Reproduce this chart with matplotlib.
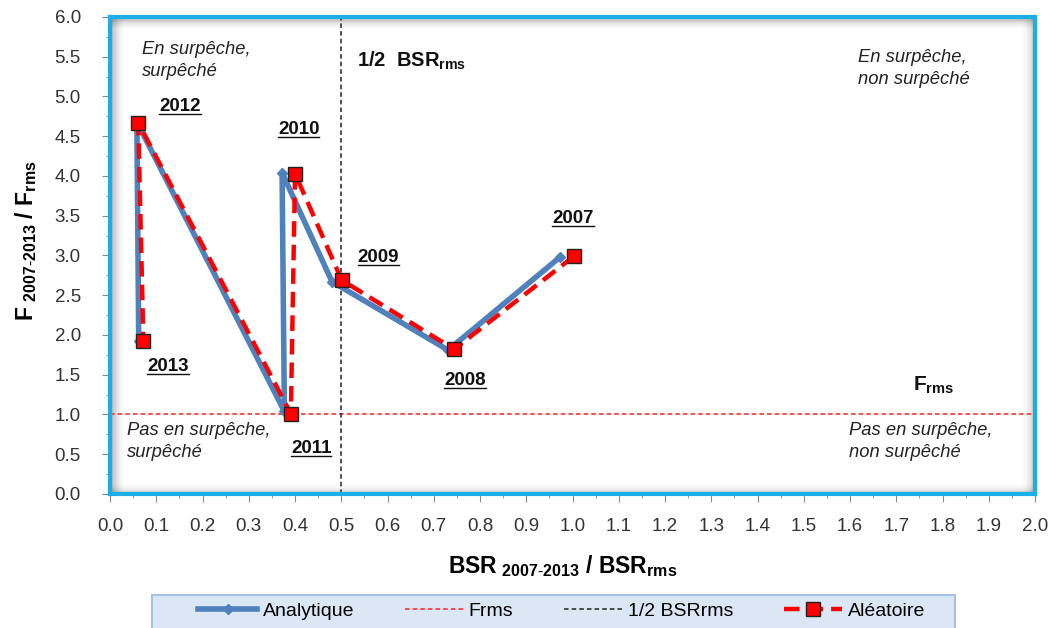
import matplotlib
matplotlib.use('Agg')
import matplotlib.pyplot as plt
from matplotlib.ticker import MultipleLocator
from matplotlib.lines import Line2D
from matplotlib.patches import Rectangle

plt.rcParams['font.family'] = ['Liberation Sans', 'DejaVu Sans']
plt.rcParams['mathtext.fontset'] = 'custom'
plt.rcParams['mathtext.rm'] = 'Liberation Sans'
plt.rcParams['mathtext.bf'] = 'Liberation Sans:bold'
plt.rcParams['mathtext.default'] = 'bf'

years = ['2007', '2008', '2009', '2010', '2011', '2012', '2013']
bsr_ana = [0.973, 0.731, 0.48, 0.372, 0.377, 0.058, 0.062]
f_ana = [2.98, 1.81, 2.67, 4.04, 1.04, 4.68, 1.93]
bsr_ale = [1.003, 0.744, 0.501, 0.40, 0.391, 0.061, 0.072]
f_ale = [2.99, 1.82, 2.69, 4.03, 1.01, 4.67, 1.93]

# label positions for the years (data coords)
lab_x = [1.001, 0.768, 0.58, 0.408, 0.435, 0.151, 0.125]
lab_y = [3.47, 1.43, 2.98, 4.59, 0.57, 4.87, 1.60]

f_rms = 1.0
half_bsr = 0.5

fig = plt.figure(figsize=(10.48, 6.28), dpi=100)
ax = fig.add_axes([0.105, 0.2134, 0.8826, 0.7596])

ax.axhline(f_rms, color='#FF2020', ls=(0, (3, 2)), lw=1.1, zorder=2)
ax.axvline(half_bsr, color='#222222', ls=(0, (3, 2)), lw=1.1, zorder=2)

ax.plot(bsr_ana, f_ana, color='#4F81BD', lw=4.0, marker='D', ms=5,
        mfc='#4F81BD', mec='#4F81BD', zorder=3)
ax.plot(bsr_ale, f_ale, color='#FF0000', lw=3.2, ls=(0, (3.5, 1.8)), marker='s',
        ms=10, mfc='#FF0000', mec='#222222', mew=1.0, zorder=4)

year_texts = []
for yr, x, y in zip(years, lab_x, lab_y):
    t = ax.text(x, y, yr, ha='center', va='center', fontsize=13.5,
                fontweight='bold', color='#111111')
    year_texts.append(t)

ax.text(0.07, 5.45, 'En surpêche,\nsurpêché', style='italic', fontsize=13.2,
        va='center', ha='left', linespacing=1.35, color='#222222')
ax.text(1.617, 5.35, 'En surpêche,\nnon surpêché', style='italic', fontsize=13.2,
        va='center', ha='left', linespacing=1.35, color='#222222')
ax.text(0.037, 0.66, 'Pas en surpêche,\nsurpêché', style='italic', fontsize=13.2,
        va='center', ha='left', linespacing=1.35, color='#222222')
ax.text(1.598, 0.66, 'Pas en surpêche,\nnon surpêché', style='italic', fontsize=13.2,
        va='center', ha='left', linespacing=1.35, color='#222222')
ax.text(0.534, 5.45, r'1/2  BSR$_{rms}$', fontsize=14.5, fontweight='bold',
        va='center', ha='left', color='#111111')
ax.text(1.736, 1.37, r'F$_{rms}$', fontsize=15, fontweight='bold',
        va='center', ha='left', color='#111111')

ax.set_xlim(0, 2.0)
ax.set_ylim(0, 6.0)
ax.xaxis.set_major_locator(MultipleLocator(0.1))
ax.xaxis.set_minor_locator(MultipleLocator(0.05))
ax.yaxis.set_major_locator(MultipleLocator(0.5))
ax.yaxis.set_minor_locator(MultipleLocator(0.25))
ax.xaxis.set_major_formatter(matplotlib.ticker.FormatStrFormatter('%.1f'))
ax.yaxis.set_major_formatter(matplotlib.ticker.FormatStrFormatter('%.1f'))
ax.tick_params(which='major', length=6, color='#888888', labelsize=13.5,
               labelcolor='#333333')
ax.tick_params(which='minor', length=3, color='#888888')
ax.tick_params(axis='x', pad=11)
ax.tick_params(axis='y', pad=15)

for s in ax.spines.values():
    s.set_color('#1AAFE6')
    s.set_linewidth(3)

# inner shadow of the frame
for i in range(10):
    a = 0.06 * (10 - i) / 10
    w = 0.0016 * (i + 1)
    ax.axvspan(0, 2.0 * w, color='black', alpha=a, lw=0, zorder=0)
    ax.axhspan(6.0 - 6.0 * w * 1.6, 6.0, color='black', alpha=a, lw=0, zorder=0)
    ax.axhspan(0, 6.0 * w * 1.4, color='black', alpha=a * 0.7, lw=0, zorder=0)
    ax.axvspan(2.0 - 2.0 * w * 0.9, 2.0, color='black', alpha=a * 0.7, lw=0, zorder=0)

ax.set_xlabel(r'BSR$_{\ 2007\text{-}2013}$ / BSR$_{rms}$', fontsize=16.5,
              fontweight='bold', labelpad=13)
ax.set_ylabel(r'F$_{\ 2007\text{-}2013}$ / F$_{rms}$', fontsize=16.5,
              fontweight='bold', labelpad=11)
ax.xaxis.label.set_x(0.489)
ax.yaxis.label.set_y(0.53)

# legend box
fig.add_artist(Rectangle((152 / 1048, -0.02), (955 - 152) / 1048, 0.02 + 33 / 628,
                         transform=fig.transFigure, facecolor='#DCE7F5',
                         edgecolor='#A8C2E6', lw=1.5, zorder=0))

handles = [
    Line2D([], [], color='#4F81BD', lw=4.0, marker='D', ms=5),
    Line2D([], [], color='#FF2020', ls=(0, (3, 2)), lw=1.1),
    Line2D([], [], color='#222222', ls=(0, (3, 2)), lw=1.1),
    Line2D([], [], color='#FF0000', lw=3.2, ls=(0, (3.5, 1.8)), marker='s',
           ms=10, mfc='#FF0000', mec='#222222'),
]
labels = ['Analytique', 'Frms', '1/2 BSRrms', 'Aléatoire']
leg = fig.legend(handles, labels, loc='center', ncol=4,
                 bbox_to_anchor=(562 / 1048, 1 - 611 / 628), fontsize=14,
                 frameon=False, handlelength=3.0, handletextpad=0.3,
                 columnspacing=2.6)

# underline the year labels
fig.canvas.draw()
r = fig.canvas.get_renderer()
for t in year_texts:
    bb = t.get_window_extent(r)
    y0 = bb.y0 + 1
    fig.add_artist(Line2D([bb.x0 / fig.bbox.width, bb.x1 / fig.bbox.width],
                          [y0 / fig.bbox.height, y0 / fig.bbox.height],
                          color='#111111', lw=1.0))

fig.savefig('out.png', dpi=100)
